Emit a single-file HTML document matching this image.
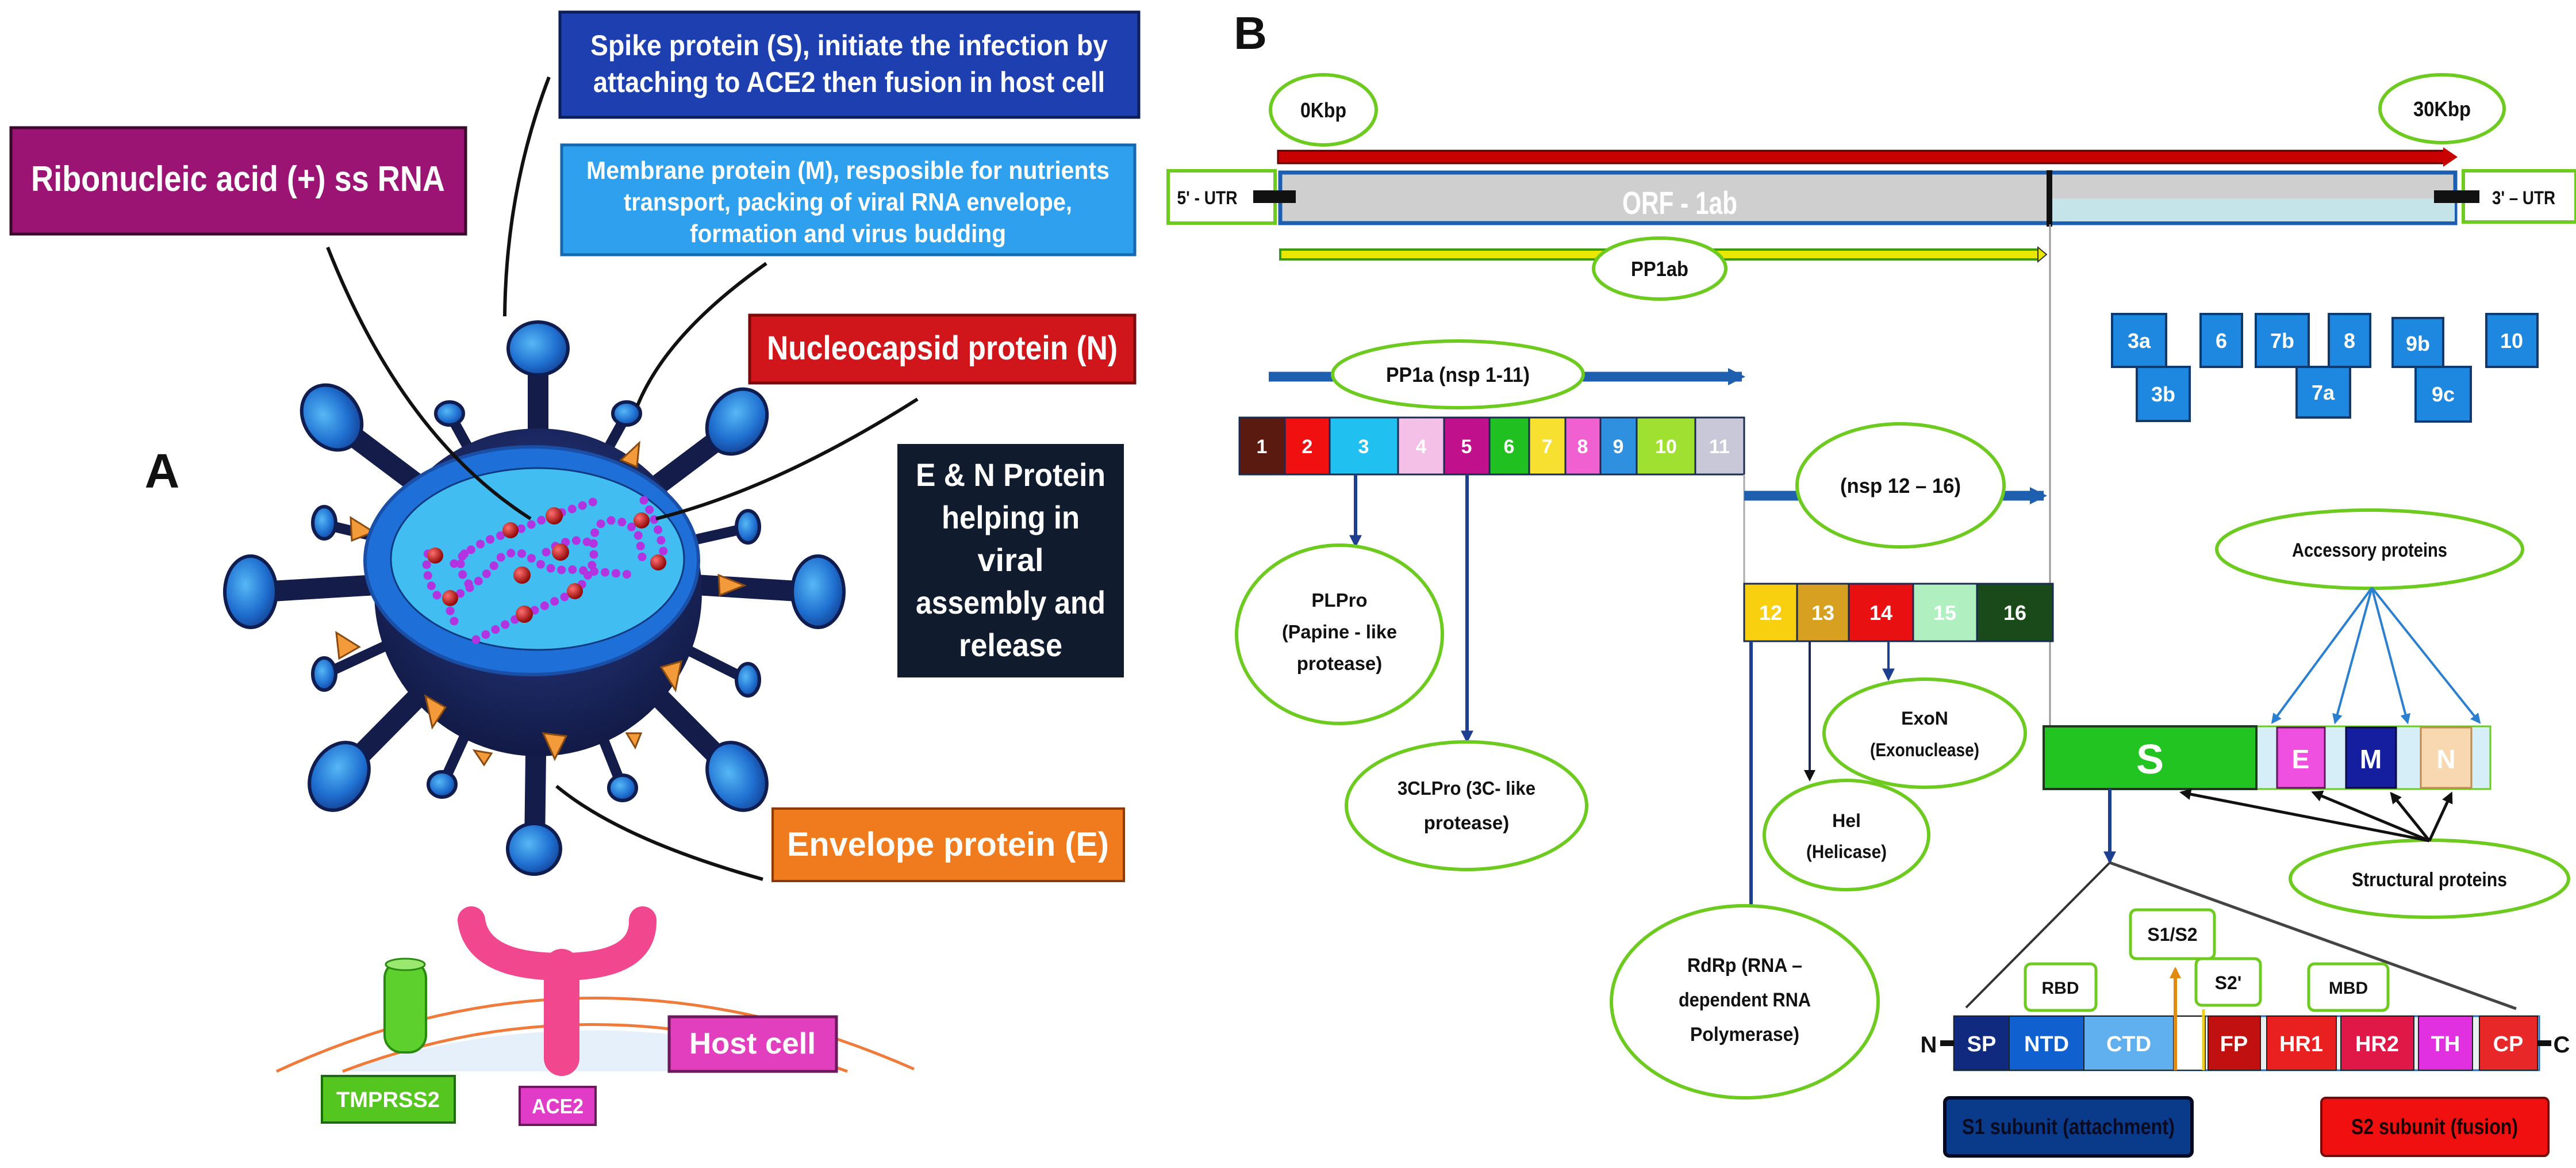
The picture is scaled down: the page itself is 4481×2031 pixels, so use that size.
<!DOCTYPE html>
<html><head><meta charset="utf-8"><style>
html,body{margin:0;padding:0;background:#fff;}
svg{display:block;}
text{font-family:"Liberation Sans Narrow","Liberation Sans",sans-serif;font-weight:bold;}
</style></head><body>
<svg width="4481" height="2031" viewBox="0 0 4481 2031" xmlns="http://www.w3.org/2000/svg">
<defs>
<radialGradient id="body" cx="0.5" cy="0.4" r="0.6"><stop offset="0" stop-color="#2a3f8f"/><stop offset="1" stop-color="#121a45"/></radialGradient>
<radialGradient id="head" cx="0.4" cy="0.4" r="0.7"><stop offset="0" stop-color="#56b8f5"/><stop offset="0.6" stop-color="#1f6fd0"/><stop offset="1" stop-color="#123a8a"/></radialGradient>
<radialGradient id="rb" cx="0.35" cy="0.35" r="0.7"><stop offset="0" stop-color="#ff7070"/><stop offset="1" stop-color="#8a0000"/></radialGradient>
<marker id="ab" viewBox="0 0 10 10" refX="8" refY="5" markerWidth="22" markerHeight="22" markerUnits="userSpaceOnUse" orient="auto"><path d="M0 0L10 5L0 10z" fill="#1c3f8f"/></marker>
<marker id="abig" viewBox="0 0 10 10" refX="8" refY="5" markerWidth="30" markerHeight="30" markerUnits="userSpaceOnUse" orient="auto"><path d="M0 0L10 5L0 10z" fill="#1f5faf"/></marker>
<marker id="ak" viewBox="0 0 10 10" refX="8" refY="5" markerWidth="20" markerHeight="20" markerUnits="userSpaceOnUse" orient="auto"><path d="M0 0L10 5L0 10z" fill="#111"/></marker>
<marker id="al" viewBox="0 0 10 10" refX="8" refY="5" markerWidth="18" markerHeight="18" markerUnits="userSpaceOnUse" orient="auto"><path d="M0 0L10 5L0 10z" fill="#2a7fd0"/></marker>
<marker id="ao" viewBox="0 0 10 10" refX="8" refY="5" markerWidth="20" markerHeight="20" markerUnits="userSpaceOnUse" orient="auto"><path d="M0 0L10 5L0 10z" fill="#e08a10"/></marker>
</defs>

<!-- ===== Panel A ===== -->
<rect x="19" y="222" width="791" height="185" fill="#9b1474" stroke="#3a0a2a" stroke-width="5"/>
<text x="414" y="332" font-size="62" fill="#fff" text-anchor="middle" textLength="720" lengthAdjust="spacingAndGlyphs">Ribonucleic acid (+) ss RNA</text>

<rect x="974" y="21" width="1007" height="183" fill="#1e3faf" stroke="#0c1e5a" stroke-width="5"/>
<text x="1477" y="96" font-size="50" fill="#fff" text-anchor="middle" textLength="900" lengthAdjust="spacingAndGlyphs">Spike protein (S), initiate the infection by</text>
<text x="1477" y="160" font-size="50" fill="#fff" text-anchor="middle" textLength="890" lengthAdjust="spacingAndGlyphs">attaching to ACE2 then fusion in host cell</text>

<rect x="977" y="252" width="997" height="191" fill="#2ea0ee" stroke="#1468b0" stroke-width="5"/>
<text x="1475" y="311" font-size="44" fill="#fff" text-anchor="middle" textLength="910" lengthAdjust="spacingAndGlyphs">Membrane protein (M), resposible for nutrients</text>
<text x="1475" y="366" font-size="44" fill="#fff" text-anchor="middle" textLength="780" lengthAdjust="spacingAndGlyphs">transport, packing of viral RNA envelope,</text>
<text x="1475" y="421" font-size="44" fill="#fff" text-anchor="middle" textLength="550" lengthAdjust="spacingAndGlyphs">formation and virus budding</text>

<rect x="1304" y="548" width="670" height="118" fill="#d0151b" stroke="#7a0a0a" stroke-width="5"/>
<text x="1639" y="625" font-size="58" fill="#fff" text-anchor="middle" textLength="610" lengthAdjust="spacingAndGlyphs">Nucleocapsid protein (N)</text>

<rect x="1561" y="772" width="394" height="406" fill="#101b2e"/>
<g font-size="56" fill="#fff" text-anchor="middle">
<text x="1758" y="845" textLength="330" lengthAdjust="spacingAndGlyphs">E &amp; N Protein</text>
<text x="1758" y="919" textLength="240" lengthAdjust="spacingAndGlyphs">helping in</text>
<text x="1758" y="993">viral</text>
<text x="1758" y="1067" textLength="330" lengthAdjust="spacingAndGlyphs">assembly and</text>
<text x="1758" y="1141" textLength="180" lengthAdjust="spacingAndGlyphs">release</text>
</g>

<text x="282" y="848" font-size="84" fill="#111" text-anchor="middle" font-family="Liberation Sans">A</text>

<rect x="1344" y="1406" width="611" height="126" fill="#f07a1e" stroke="#8a3a08" stroke-width="4"/>
<text x="1649" y="1488" font-size="58" fill="#fff" text-anchor="middle" textLength="560" lengthAdjust="spacingAndGlyphs">Envelope protein (E)</text>

<!-- virus spikes -->
<g stroke="#141c4a" stroke-width="36" stroke-linecap="round">
<line x1="936" y1="1000" x2="936" y2="620"/>
<line x1="936" y1="1000" x2="590" y2="740"/>
<line x1="936" y1="1000" x2="1275" y2="745"/>
<line x1="936" y1="1000" x2="440" y2="1030"/>
<line x1="936" y1="1000" x2="1420" y2="1030"/>
<line x1="936" y1="1000" x2="595" y2="1345"/>
<line x1="936" y1="1000" x2="1278" y2="1345"/>
<line x1="936" y1="1000" x2="930" y2="1470"/>
</g>
<g stroke="#141c4a" stroke-width="18" stroke-linecap="round">
<line x1="936" y1="1000" x2="785" y2="725"/>
<line x1="936" y1="1000" x2="1088" y2="725"/>
<line x1="936" y1="1000" x2="565" y2="912"/>
<line x1="936" y1="1000" x2="1300" y2="918"/>
<line x1="936" y1="1000" x2="565" y2="1172"/>
<line x1="936" y1="1000" x2="1300" y2="1182"/>
<line x1="936" y1="1000" x2="770" y2="1364"/>
<line x1="936" y1="1000" x2="1083" y2="1370"/>
</g>
<circle cx="936" cy="1030" r="285" fill="url(#body)"/>
<g fill="url(#head)" stroke="#0f1d50" stroke-width="6">
<ellipse cx="936" cy="606" rx="52" ry="46"/>
<ellipse cx="577" cy="726" rx="48" ry="60" transform="rotate(-35 577 726)"/>
<ellipse cx="1282" cy="733" rx="48" ry="60" transform="rotate(35 1282 733)"/>
<ellipse cx="436" cy="1029" rx="45" ry="62"/>
<ellipse cx="1423" cy="1029" rx="45" ry="62"/>
<ellipse cx="590" cy="1350" rx="48" ry="62" transform="rotate(30 590 1350)"/>
<ellipse cx="1282" cy="1350" rx="48" ry="62" transform="rotate(-30 1282 1350)"/>
<ellipse cx="929" cy="1476" rx="46" ry="44"/>
<ellipse cx="782" cy="719" rx="24" ry="20"/>
<ellipse cx="1090" cy="719" rx="24" ry="20"/>
<ellipse cx="564" cy="909" rx="20" ry="28"/>
<ellipse cx="1301" cy="916" rx="20" ry="28"/>
<ellipse cx="564" cy="1172" rx="20" ry="28"/>
<ellipse cx="1301" cy="1182" rx="20" ry="28"/>
<ellipse cx="769" cy="1364" rx="24" ry="22"/>
<ellipse cx="1083" cy="1370" rx="24" ry="22"/>
</g>
<g fill="#f39a3a" stroke="#8a4a10" stroke-width="3">
<path d="M1080 800 L1112 770 L1108 812z"/>
<path d="M610 900 L650 925 L612 940z"/>
<path d="M1250 1000 L1295 1018 L1252 1035z"/>
<path d="M585 1100 L625 1125 L590 1145z"/>
<path d="M1150 1160 L1185 1150 L1175 1200z"/>
<path d="M740 1210 L775 1230 L752 1265z"/>
<path d="M945 1275 L985 1280 L965 1320z"/>
<path d="M1090 1275 L1115 1275 L1105 1300z"/>
<path d="M825 1305 L855 1310 L842 1330z"/>
</g>
<ellipse cx="925" cy="975" rx="290" ry="198" fill="#1f6fd8" stroke="#1a4fa8" stroke-width="6"/>
<ellipse cx="935" cy="972" rx="255" ry="158" fill="#42bdf2" stroke="#0e3a80" stroke-width="3"/>
<!-- RNA beads -->
<g fill="none" stroke="#b234e0" stroke-width="15" stroke-linecap="round" stroke-dasharray="0 19">
<path d="M828 1112 L910 1070 L1000 1030 Q1035 995 1033 955 Q1028 910 1060 905 Q1100 905 1112 935 L1118 975"/>
<path d="M760 1035 Q735 1000 745 960 M790 980 Q820 950 860 935 L905 920 L960 897 L1040 870"/>
<path d="M790 1080 Q770 1045 805 1030 Q845 1005 870 970 Q900 950 930 975 Q960 995 990 990 L1050 995 L1105 1000"/>
<path d="M815 1015 Q790 985 810 960 M1120 870 Q1140 900 1150 940 Q1160 975 1145 978"/>
<path d="M950 960 Q990 930 1030 945"/>
</g>
<g fill="url(#rb)">
<circle cx="757" cy="966" r="14"/><circle cx="783" cy="1040" r="14"/><circle cx="888" cy="922" r="14"/>
<circle cx="964" cy="897" r="15"/><circle cx="975" cy="960" r="15"/><circle cx="908" cy="1000" r="15"/>
<circle cx="1000" cy="1028" r="14"/><circle cx="912" cy="1068" r="15"/><circle cx="1116" cy="905" r="14"/><circle cx="1145" cy="978" r="14"/>
</g>
<!-- callout lines -->
<g fill="none" stroke="#111" stroke-width="6">
<path d="M570 430 Q700 760 923 902"/>
<path d="M955 134 Q880 330 878 550"/>
<path d="M1333 458 Q1160 580 1109 705"/>
<path d="M1596 694 Q1350 850 1141 902"/>
<path d="M1327 1529 Q1080 1460 968 1367"/>
</g>

<!-- host cell -->
<path d="M596 1863 Q1026 1720 1474 1863 Z" fill="#e6f0fa"/>
<path d="M481 1863 Q1026 1610 1590 1859" fill="none" stroke="#f07a3a" stroke-width="5"/>
<path d="M596 1863 Q1026 1700 1474 1863" fill="none" stroke="#f07a3a" stroke-width="5"/>
<rect x="669" y="1671" width="72" height="159" rx="30" fill="#5dd02e" stroke="#2a8a10" stroke-width="4"/>
<ellipse cx="705" cy="1677" rx="34" ry="10" fill="#9be870" stroke="#2a8a10" stroke-width="3"/>
<path d="M820 1600 Q830 1681 977 1681 Q1120 1681 1118 1600" fill="none" stroke="#f0478e" stroke-width="48" stroke-linecap="round"/>
<line x1="977" y1="1681" x2="977" y2="1840" stroke="#f0478e" stroke-width="62" stroke-linecap="round"/>
<rect x="1164" y="1768" width="291" height="95" fill="#e23fbf" stroke="#6a1a5a" stroke-width="5"/>
<text x="1309" y="1832" font-size="52" fill="#fff" text-anchor="middle" textLength="220" lengthAdjust="spacingAndGlyphs">Host cell</text>
<rect x="560" y="1871" width="231" height="81" fill="#55c51f" stroke="#1e6a10" stroke-width="4"/>
<text x="675" y="1925" font-size="38" fill="#fff" text-anchor="middle" textLength="180" lengthAdjust="spacingAndGlyphs">TMPRSS2</text>
<rect x="904" y="1890" width="132" height="66" fill="#e03cc8" stroke="#6a1a5a" stroke-width="4"/>
<text x="970" y="1936" font-size="36" fill="#fff" text-anchor="middle" textLength="90" lengthAdjust="spacingAndGlyphs">ACE2</text>

<!-- ===== Panel B ===== -->
<text x="2175" y="85" font-size="80" fill="#111" text-anchor="middle" font-family="Liberation Sans">B</text>

<g fill="#fff" stroke="#6ccb1e" stroke-width="6">
<ellipse cx="2302" cy="191" rx="92" ry="61"/>
<ellipse cx="4248" cy="189" rx="108" ry="59"/>
</g>
<text x="2302" y="204" font-size="36" fill="#111" text-anchor="middle" textLength="80" lengthAdjust="spacingAndGlyphs">0Kbp</text>
<text x="4248" y="202" font-size="36" fill="#111" text-anchor="middle" textLength="100" lengthAdjust="spacingAndGlyphs">30Kbp</text>

<rect x="2223" y="262" width="2030" height="22" fill="#c80000" stroke="#5a0000" stroke-width="3"/>
<path d="M4250 256 L4275 273 L4250 290z" fill="#c80000"/>

<rect x="2032" y="297" width="186" height="91" fill="#fff" stroke="#6ccb1e" stroke-width="6"/>
<text x="2100" y="355" font-size="32" fill="#111" text-anchor="middle" textLength="105" lengthAdjust="spacingAndGlyphs">5' - UTR</text>
<rect x="2227" y="300" width="2044" height="88" fill="#cfcfcf" stroke="#1c5fb0" stroke-width="7"/>
<rect x="3570" y="345" width="700" height="40" fill="#c4e4ea"/>
<rect x="3560" y="296" width="10" height="98" fill="#111"/>
<rect x="2180" y="331" width="74" height="22" fill="#111"/>
<rect x="4285" y="297" width="196" height="89" fill="#fff" stroke="#6ccb1e" stroke-width="6"/>
<rect x="4234" y="331" width="79" height="22" fill="#111"/>
<text x="4390" y="355" font-size="32" fill="#111" text-anchor="middle" textLength="110" lengthAdjust="spacingAndGlyphs">3' – UTR</text>
<text x="2922" y="372" font-size="56" fill="#fff" text-anchor="middle" textLength="200" lengthAdjust="spacingAndGlyphs">ORF - 1ab</text>

<line x1="3566" y1="390" x2="3566" y2="1264" stroke="#999" stroke-width="3"/>

<rect x="2227" y="434" width="1320" height="17" fill="#e8e800" stroke="#3a9a10" stroke-width="4"/>
<path d="M3545 430 L3560 442.5 L3545 455z" fill="#e8e800" stroke="#333" stroke-width="2"/>
<ellipse cx="2887" cy="467" rx="115" ry="53" fill="#fff" stroke="#6ccb1e" stroke-width="6"/>
<text x="2887" y="480" font-size="36" fill="#111" text-anchor="middle" textLength="100" lengthAdjust="spacingAndGlyphs">PP1ab</text>

<!-- PP1a -->
<line x1="2207" y1="655" x2="3030" y2="655" stroke="#1f5faf" stroke-width="17" marker-end="url(#abig)"/>
<ellipse cx="2536" cy="651" rx="218" ry="58" fill="#fff" stroke="#6ccb1e" stroke-width="6"/>
<text x="2536" y="664" font-size="36" fill="#111" text-anchor="middle" textLength="250" lengthAdjust="spacingAndGlyphs">PP1a (nsp 1-11)</text>

<g stroke="#1a2a50" stroke-width="3">
<rect x="2156" y="726" width="79" height="99" fill="#5a1a10"/>
<rect x="2235" y="726" width="78" height="99" fill="#f01010"/>
<rect x="2313" y="726" width="119" height="99" fill="#20c0f0"/>
<rect x="2432" y="726" width="80" height="99" fill="#f4c0e8"/>
<rect x="2512" y="726" width="79" height="99" fill="#c0108c"/>
<rect x="2591" y="726" width="69" height="99" fill="#20c020"/>
<rect x="2660" y="726" width="63" height="99" fill="#f8e030"/>
<rect x="2723" y="726" width="61" height="99" fill="#f060d0"/>
<rect x="2784" y="726" width="63" height="99" fill="#3090e0"/>
<rect x="2847" y="726" width="102" height="99" fill="#a0e030"/>
<rect x="2949" y="726" width="85" height="99" fill="#c8c8d8"/>
</g>
<g font-size="34" fill="#fff" text-anchor="middle">
<text x="2195" y="788">1</text><text x="2274" y="788">2</text><text x="2372" y="788">3</text>
<text x="2472" y="788">4</text><text x="2551" y="788">5</text><text x="2625" y="788">6</text>
<text x="2691" y="788">7</text><text x="2753" y="788">8</text><text x="2815" y="788">9</text>
<text x="2898" y="788">10</text><text x="2991" y="788">11</text>
</g>
<line x1="2358" y1="825" x2="2358" y2="948" stroke="#1c3f8f" stroke-width="6" marker-end="url(#ab)"/>
<line x1="2552" y1="825" x2="2552" y2="1288" stroke="#1c3f8f" stroke-width="6" marker-end="url(#ab)"/>

<ellipse cx="2330" cy="1103" rx="179" ry="155" fill="#fff" stroke="#6ccb1e" stroke-width="6"/>
<g font-size="33" fill="#111" text-anchor="middle">
<text x="2330" y="1055">PLPro</text><text x="2330" y="1110" textLength="200" lengthAdjust="spacingAndGlyphs">(Papine - like</text><text x="2330" y="1165">protease)</text>
</g>
<ellipse cx="2551" cy="1401" rx="209" ry="111" fill="#fff" stroke="#6ccb1e" stroke-width="6"/>
<g font-size="33" fill="#111" text-anchor="middle">
<text x="2551" y="1382" textLength="240" lengthAdjust="spacingAndGlyphs">3CLPro (3C- like</text><text x="2551" y="1442">protease)</text>
</g>

<!-- nsp 12-16 -->
<line x1="3034" y1="825" x2="3034" y2="1015" stroke="#aaa" stroke-width="3"/>
<line x1="3034" y1="862" x2="3555" y2="862" stroke="#1f5faf" stroke-width="17" marker-end="url(#abig)"/>
<ellipse cx="3306" cy="844" rx="180" ry="107" fill="#fff" stroke="#6ccb1e" stroke-width="6"/>
<text x="3306" y="857" font-size="36" fill="#111" text-anchor="middle" textLength="210" lengthAdjust="spacingAndGlyphs">(nsp 12 – 16)</text>
<g stroke="#1a2a50" stroke-width="3">
<rect x="3034" y="1015" width="92" height="100" fill="#f8d010"/>
<rect x="3126" y="1015" width="90" height="100" fill="#d8a020"/>
<rect x="3216" y="1015" width="112" height="100" fill="#e81010"/>
<rect x="3328" y="1015" width="111" height="100" fill="#b0f0c0"/>
<rect x="3439" y="1015" width="132" height="100" fill="#1a4a1a"/>
</g>
<g font-size="36" fill="#fff" text-anchor="middle">
<text x="3080" y="1078">12</text><text x="3171" y="1078">13</text><text x="3272" y="1078">14</text>
<text x="3383" y="1078">15</text><text x="3505" y="1078">16</text>
</g>
<line x1="3046" y1="1115" x2="3046" y2="1575" stroke="#1c3f8f" stroke-width="6"/>
<line x1="3148" y1="1115" x2="3148" y2="1355" stroke="#1a2a50" stroke-width="4" marker-end="url(#ak)"/>
<line x1="3285" y1="1115" x2="3285" y2="1180" stroke="#1c3f8f" stroke-width="4" marker-end="url(#ab)"/>

<ellipse cx="3348" cy="1275" rx="175" ry="94" fill="#fff" stroke="#6ccb1e" stroke-width="6"/>
<g font-size="32" fill="#111" text-anchor="middle"><text x="3348" y="1260">ExoN</text><text x="3348" y="1315" textLength="190" lengthAdjust="spacingAndGlyphs">(Exonuclease)</text></g>
<ellipse cx="3212" cy="1452" rx="143" ry="95" fill="#fff" stroke="#6ccb1e" stroke-width="6"/>
<g font-size="32" fill="#111" text-anchor="middle"><text x="3212" y="1438">Hel</text><text x="3212" y="1492" textLength="140" lengthAdjust="spacingAndGlyphs">(Helicase)</text></g>
<ellipse cx="3035" cy="1742" rx="232" ry="167" fill="#fff" stroke="#6ccb1e" stroke-width="6"/>
<g font-size="34" fill="#111" text-anchor="middle"><text x="3035" y="1690" textLength="200" lengthAdjust="spacingAndGlyphs">RdRp (RNA –</text><text x="3035" y="1750" textLength="230" lengthAdjust="spacingAndGlyphs">dependent RNA</text><text x="3035" y="1810" textLength="190" lengthAdjust="spacingAndGlyphs">Polymerase)</text></g>

<!-- accessory boxes -->
<g fill="#1e88e0" stroke="#0e3a70" stroke-width="4">
<rect x="3717" y="638" width="92" height="94"/>
<rect x="3674" y="546" width="94" height="92"/>
<rect x="3828" y="546" width="72" height="92"/>
<rect x="3995" y="638" width="93" height="88"/>
<rect x="3924" y="546" width="92" height="92"/>
<rect x="4051" y="546" width="72" height="92"/>
<rect x="4202" y="638" width="96" height="95"/>
<rect x="4162" y="553" width="88" height="85"/>
<rect x="4325" y="546" width="89" height="92"/>
</g>
<g font-size="36" fill="#fff" text-anchor="middle">
<text x="3721" y="605">3a</text><text x="3763" y="698">3b</text><text x="3864" y="605">6</text>
<text x="3970" y="605">7b</text><text x="4087" y="605">8</text><text x="4041" y="695">7a</text>
<text x="4206" y="610">9b</text><text x="4250" y="698">9c</text><text x="4369" y="605">10</text>
</g>

<ellipse cx="4122" cy="955" rx="266" ry="68" fill="#fff" stroke="#6ccb1e" stroke-width="6"/>
<text x="4122" y="968" font-size="34" fill="#111" text-anchor="middle" textLength="270" lengthAdjust="spacingAndGlyphs">Accessory proteins</text>
<g stroke="#2a7fd0" stroke-width="4" marker-end="url(#al)">
<line x1="4126" y1="1022" x2="3953" y2="1256"/>
<line x1="4126" y1="1022" x2="4062" y2="1256"/>
<line x1="4126" y1="1022" x2="4188" y2="1256"/>
<line x1="4126" y1="1022" x2="4313" y2="1256"/>
</g>

<rect x="3555" y="1263" width="777" height="109" fill="#d6eef8" stroke="#6ccb1e" stroke-width="3"/>
<rect x="3555" y="1263" width="370" height="109" fill="#22c422" stroke="#1a3a1a" stroke-width="4"/>
<rect x="3961" y="1265" width="83" height="105" fill="#f050e0" stroke="#5a1a5a" stroke-width="3"/>
<rect x="4081" y="1265" width="87" height="105" fill="#141e9e" stroke="#0a0a40" stroke-width="3"/>
<rect x="4211" y="1265" width="88" height="105" fill="#f8d8b0" stroke="#c08a50" stroke-width="3"/>
<text x="3740" y="1345" font-size="72" fill="#fff" text-anchor="middle">S</text>
<g font-size="46" fill="#fff" text-anchor="middle"><text x="4002" y="1336">E</text><text x="4124" y="1336">M</text><text x="4255" y="1336">N</text></g>

<ellipse cx="4226" cy="1528" rx="242" ry="67" fill="#fff" stroke="#6ccb1e" stroke-width="6"/>
<text x="4226" y="1541" font-size="34" fill="#111" text-anchor="middle" textLength="270" lengthAdjust="spacingAndGlyphs">Structural proteins</text>
<g stroke="#111" stroke-width="5" marker-end="url(#ak)">
<line x1="4226" y1="1462" x2="3795" y2="1378"/>
<line x1="4226" y1="1462" x2="4024" y2="1378"/>
<line x1="4226" y1="1462" x2="4160" y2="1380"/>
<line x1="4226" y1="1462" x2="4264" y2="1380"/>
</g>

<line x1="3670" y1="1372" x2="3670" y2="1498" stroke="#1c3f8f" stroke-width="6" marker-end="url(#ab)"/>
<line x1="3670" y1="1500" x2="3420" y2="1752" stroke="#333" stroke-width="4"/>
<line x1="3670" y1="1500" x2="4377" y2="1754" stroke="#444" stroke-width="5"/>

<rect x="3523" y="1676" width="123" height="81" rx="10" fill="#fff" stroke="#6ccb1e" stroke-width="5"/>
<text x="3584" y="1728" font-size="30" fill="#111" text-anchor="middle">RBD</text>
<rect x="3706" y="1582" width="146" height="85" rx="10" fill="#fff" stroke="#6ccb1e" stroke-width="5"/>
<text x="3779" y="1636" font-size="32" fill="#111" text-anchor="middle">S1/S2</text>
<rect x="3820" y="1667" width="112" height="81" rx="10" fill="#fff" stroke="#6ccb1e" stroke-width="5"/>
<text x="3876" y="1720" font-size="32" fill="#111" text-anchor="middle">S2'</text>
<rect x="4016" y="1676" width="138" height="81" rx="10" fill="#fff" stroke="#6ccb1e" stroke-width="5"/>
<text x="4085" y="1728" font-size="30" fill="#111" text-anchor="middle">MBD</text>

<rect x="3399" y="1767" width="1018" height="94" fill="#e8f0f0" stroke="#2a6fbf" stroke-width="3"/>
<g stroke="#222" stroke-width="2">
<rect x="3399" y="1767" width="96" height="94" fill="#102a80"/>
<rect x="3495" y="1767" width="130" height="94" fill="#1060d0"/>
<rect x="3625" y="1767" width="156" height="94" fill="#60b0f0"/>
<rect x="3781" y="1767" width="55" height="94" fill="#fff"/>
<rect x="3841" y="1767" width="91" height="94" fill="#c01010"/>
<rect x="3943" y="1767" width="121" height="94" fill="#e82020"/>
<rect x="4072" y="1767" width="127" height="94" fill="#e01848"/>
<rect x="4207" y="1767" width="94" height="94" fill="#e030e0"/>
<rect x="4313" y="1767" width="101" height="94" fill="#e82828"/>
</g>
<line x1="3784" y1="1861" x2="3784" y2="1685" stroke="#e08a10" stroke-width="6" marker-end="url(#ao)"/>
<line x1="3833" y1="1861" x2="3833" y2="1755" stroke="#f0d010" stroke-width="5"/>
<g font-size="38" fill="#fff" text-anchor="middle">
<text x="3447" y="1828">SP</text><text x="3560" y="1828">NTD</text><text x="3703" y="1828">CTD</text>
<text x="3886" y="1828">FP</text><text x="4003" y="1828">HR1</text><text x="4135" y="1828">HR2</text>
<text x="4254" y="1828">TH</text><text x="4363" y="1828">CP</text>
</g>
<line x1="3375" y1="1814" x2="3399" y2="1814" stroke="#111" stroke-width="10"/>
<line x1="4414" y1="1814" x2="4438" y2="1814" stroke="#111" stroke-width="10"/>
<text x="3355" y="1830" font-size="40" fill="#111" text-anchor="middle">N</text>
<text x="4456" y="1830" font-size="40" fill="#111" text-anchor="middle">C</text>

<rect x="3383" y="1909" width="430" height="101" rx="8" fill="#0a3a8a" stroke="#050a20" stroke-width="6"/>
<text x="3598" y="1972" font-size="38" fill="#0a0a20" text-anchor="middle" textLength="370" lengthAdjust="spacingAndGlyphs">S1 subunit (attachment)</text>
<rect x="4038" y="1909" width="395" height="101" rx="8" fill="#f01010" stroke="#7a0a0a" stroke-width="4"/>
<text x="4235" y="1972" font-size="38" fill="#1a0000" text-anchor="middle" textLength="290" lengthAdjust="spacingAndGlyphs">S2 subunit (fusion)</text>
</svg>
</body></html>
